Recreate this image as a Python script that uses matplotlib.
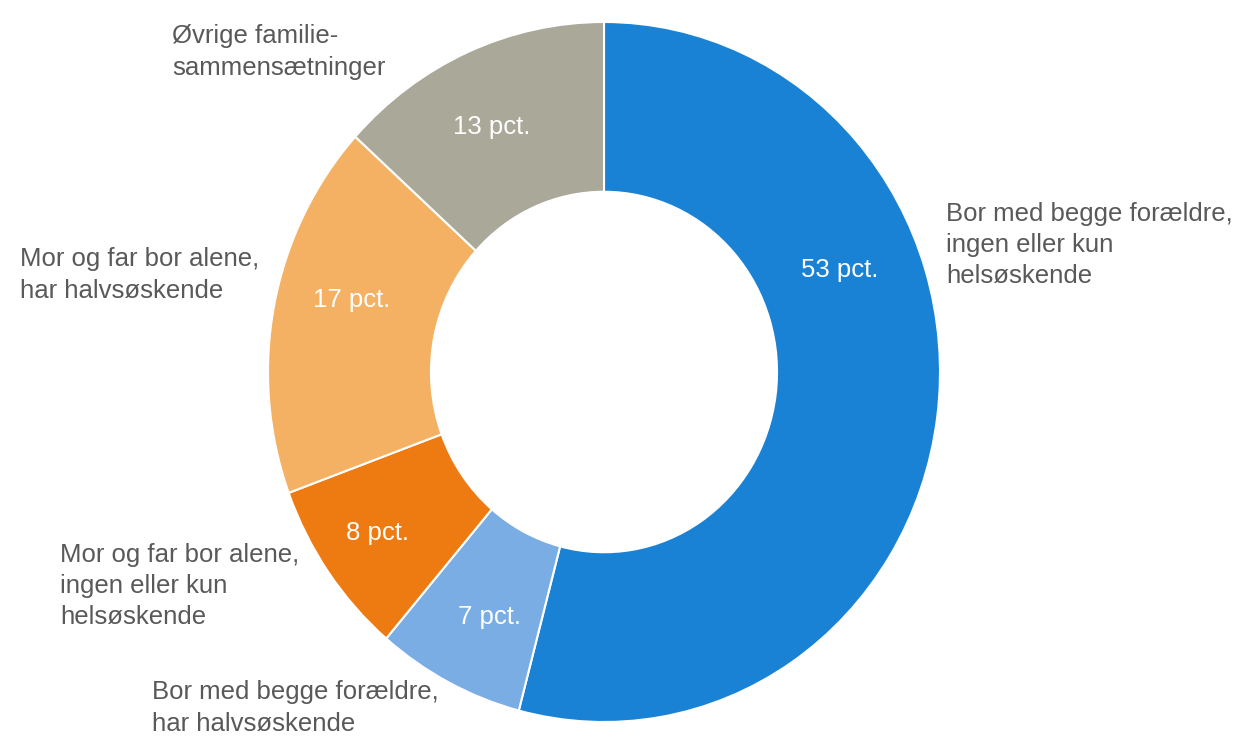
import matplotlib.pyplot as plt

plt.rcParams['font.family'] = ['Liberation Sans', 'DejaVu Sans']

# data, clockwise from 12 o'clock
categories = [
    "Bor med begge forældre,\ningen eller kun\nhelsøskende",
    "Bor med begge forældre,\nhar halvsøskende",
    "Mor og far bor alene,\ningen eller kun\nhelsøskende",
    "Mor og far bor alene,\nhar halvsøskende",
    "Øvrige familie-\nsammensætninger",
]
shares = [53, 7, 8, 17, 13]
pct_labels = [f"{v} pct." for v in shares]
colors = ["#1A82D5", "#79ADE3", "#EE7A12", "#F5B163", "#A9A899"]

# label placement in pixel coords of the 1238x740 canvas
CX, CY, RX, RY = 604, 372, 336, 350
pct_pos = [(840, 270), (489, 617), (378, 533), (352, 300), (492, 127)]
cat_pos = [(946, 245), (152, 708), (60, 586), (20, 275), (172, 52)]


def to_data(px, py):
    return (px - CX) / RX, (CY - py) / RY


fig = plt.figure(figsize=(12.38, 7.40), dpi=100)
ax = fig.add_axes([(CX - RX) / 1238, (740 - CY - RY) / 740, 2 * RX / 1238, 2 * RY / 740])

ax.pie(shares, colors=colors, startangle=90, counterclock=False, radius=1,
       wedgeprops=dict(width=0.485, edgecolor="white", linewidth=1.5))
ax.set_aspect('auto')
ax.set_xlim(-1, 1)
ax.set_ylim(-1, 1)
ax.axis('off')

for lab, (px, py) in zip(pct_labels, pct_pos):
    x, y = to_data(px, py)
    ax.text(x, y, lab, color="white", fontsize=18.5, ha="center", va="center")

for lab, (px, py) in zip(categories, cat_pos):
    x, y = to_data(px, py)
    ax.text(x, y, lab, color="#595959", fontsize=18.5, ha="left", va="center",
            linespacing=1.38, clip_on=False)

fig.savefig("out.png", dpi=100, facecolor="white")
